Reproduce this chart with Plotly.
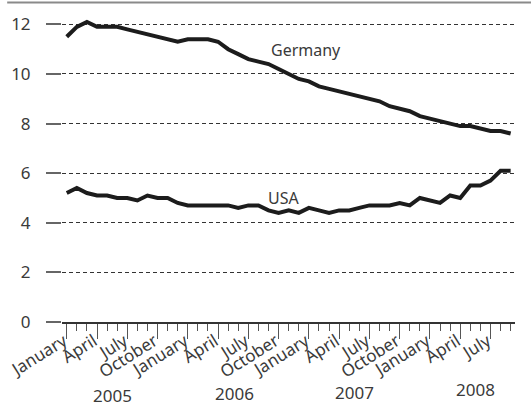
import plotly.graph_objects as go

# Monthly index: 0 = January 2005 ... 44 = September 2008
months = list(range(45))
germany = [11.5, 11.9, 12.1, 11.9, 11.9, 11.9, 11.8, 11.7, 11.6, 11.5, 11.4, 11.3,
           11.4, 11.4, 11.4, 11.3, 11.0, 10.8, 10.6, 10.5, 10.4, 10.2, 10.0, 9.8,
           9.7, 9.5, 9.4, 9.3, 9.2, 9.1, 9.0, 8.9, 8.7, 8.6, 8.5, 8.3,
           8.2, 8.1, 8.0, 7.9, 7.9, 7.8, 7.7, 7.7, 7.6]
usa = [5.2, 5.4, 5.2, 5.1, 5.1, 5.0, 5.0, 4.9, 5.1, 5.0, 5.0, 4.8,
       4.7, 4.7, 4.7, 4.7, 4.7, 4.6, 4.7, 4.7, 4.5, 4.4, 4.5, 4.4,
       4.6, 4.5, 4.4, 4.5, 4.5, 4.6, 4.7, 4.7, 4.7, 4.8, 4.7, 5.0,
       4.9, 4.8, 5.1, 5.0, 5.5, 5.5, 5.7, 6.1, 6.1]

tick_vals = list(range(0, 45, 3))
tick_text = ["January", "April", "July", "October"] * 4
tick_text = tick_text[:len(tick_vals)]
years = ["2005", "2006", "2007", "2008"]
year_x = [4.5, 16.6, 28.5, 40.5]
year_y = [-0.234, -0.229, -0.225, -0.215]
y_ticks = [0, 2, 4, 6, 8, 10, 12]

FONT = "Noto Sans"
TXT = "#3a3a3a"
LINE = "#1c1c1c"

fig = go.Figure()
fig.add_trace(go.Scatter(x=months, y=germany, mode="lines", name="Germany",
                         line=dict(color=LINE, width=4), hoverinfo="skip"))
fig.add_trace(go.Scatter(x=months, y=usa, mode="lines", name="USA",
                         line=dict(color=LINE, width=4), hoverinfo="skip"))

fig.add_annotation(x=23.7, y=10.96, text="Germany", showarrow=False,
                   font=dict(family=FONT, size=16, color=TXT))
fig.add_annotation(x=21.5, y=5.0, text="USA", showarrow=False,
                   font=dict(family=FONT, size=16, color=TXT))

for yr, xv, yv in zip(years, year_x, year_y):
    fig.add_annotation(x=xv, y=yv, xref="x", yref="paper", text=yr,
                       showarrow=False, yanchor="middle",
                       font=dict(family=FONT, size=17, color=TXT))

# top rule
fig.add_shape(type="line", xref="paper", yref="paper",
              x0=-0.121, x1=1.04, y0=1.024, y1=1.024,
              line=dict(color="#8a8a8a", width=2))

fig.update_layout(
    width=531, height=404,
    margin=dict(l=62, r=16, t=10, b=82, autoexpand=False),
    paper_bgcolor="white", plot_bgcolor="white",
    showlegend=False,
    font=dict(family=FONT, color=TXT),
)
fig.update_xaxes(
    range=[-0.47, 44.43], automargin=False,
    tickmode="array", tickvals=tick_vals, ticktext=tick_text,
    tickangle=-32, ticks="outside", ticklen=15, tickwidth=1.2,
    tickcolor="#555555",
    ticklabelstandoff=-14, ticklabelshift=-3,
    minor=dict(dtick=1, tick0=0, ticks="outside", ticklen=7,
               tickwidth=1.2, tickcolor="#555555", showgrid=False),
    showgrid=False, zeroline=False,
    showline=True, linecolor="#333333", linewidth=1.5,
    tickfont=dict(family=FONT, size=17, color=TXT),
)
fig.update_yaxes(
    range=[0, 12.58], automargin=False,
    tickmode="array", tickvals=y_ticks,
    ticks="outside", ticklen=15, tickwidth=1.5, tickcolor="#666666",
    ticklabelstandoff=12,
    showgrid=True, gridcolor="#333333", gridwidth=1, griddash="4px,3px",
    zeroline=False, showline=False,
    tickfont=dict(family=FONT, size=17, color=TXT),
)

fig.write_html("out.html", config={"displayModeBar": False},
               post_script="document.body.style.margin='0';document.body.style.padding='0';")
